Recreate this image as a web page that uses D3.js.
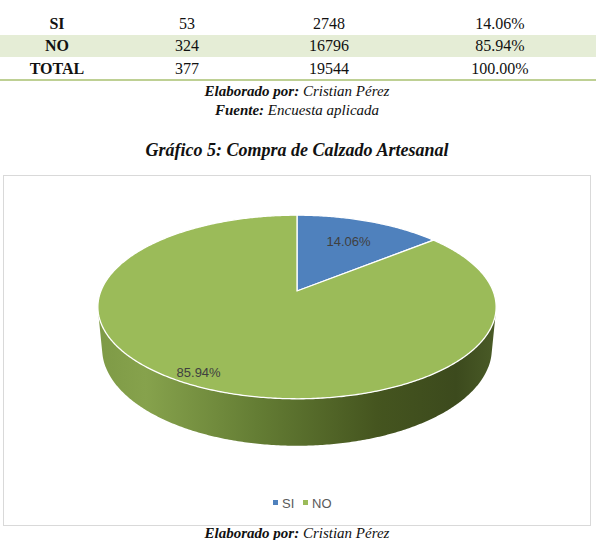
<!DOCTYPE html>
<html><head><meta charset="utf-8">
<script src="https://cdn.jsdelivr.net/npm/d3@7"></script>
<style>html,body{margin:0;padding:0;background:#fff;}svg{display:block;}</style>
</head><body>
<svg id="c" width="596" height="540"></svg>
<script>
// ---- data ----
const categories = ["SI", "NO"];
const frecuencia = [53, 324];
const poblacion = [2748, 16796];
const porcentaje = [14.06, 85.94];
const totalRow = ["TOTAL", "377", "19544", "100.00%"];
const colors = ["#4f81bd", "#9bbb59"];

const svg = d3.select("#c");
const serif = "'Liberation Serif','Times New Roman',serif";
const sans = "'Liberation Sans',Arial,sans-serif";

// ---- table ----
const colX = [57, 187, 329, 500];
const rows = categories.map((c, i) => [c, String(frecuencia[i]), String(poblacion[i]), porcentaje[i].toFixed(2) + "%"]);
rows.push(totalRow);
const rowY = [23, 45.5, 68];
svg.append("rect").attr("x", 0).attr("y", 35).attr("width", 596).attr("height", 22).attr("fill", "#e5edd6");
svg.append("line").attr("x1", 0).attr("x2", 596).attr("y1", 80).attr("y2", 80).attr("stroke", "#a8c070").attr("stroke-width", 1.5);
rows.forEach((r, ri) => {
  r.forEach((t, ci) => {
    svg.append("text").attr("x", colX[ci]).attr("y", rowY[ri] + 5.5)
      .attr("text-anchor", "middle").attr("font-family", serif).attr("font-size", 16)
      .attr("font-weight", ci === 0 ? "bold" : "normal").attr("fill", "#111").text(t);
  });
});

function credit(y, bold, ital) {
  const t = svg.append("text").attr("x", 297).attr("y", y).attr("text-anchor", "middle")
    .attr("font-family", serif).attr("font-size", 15).attr("font-style", "italic").attr("fill", "#111");
  t.append("tspan").attr("font-weight", "bold").text(bold + " ");
  t.append("tspan").text(ital);
}
credit(96, "Elaborado por:", "Cristian Pérez");
credit(115, "Fuente:", "Encuesta aplicada");

svg.append("text").attr("x", 297).attr("y", 156).attr("text-anchor", "middle")
  .attr("font-family", serif).attr("font-size", 18).attr("font-weight", "bold").attr("font-style", "italic")
  .attr("fill", "#111").text("Gráfico 5: Compra de Calzado Artesanal");

// chart frame
svg.append("rect").attr("x", 3.5).attr("y", 175.5).attr("width", 587).attr("height", 350)
  .attr("fill", "#fff").attr("stroke", "#d9d9d9").attr("stroke-width", 1);

// ---- 3D pie (perspective projection) ----
const elev = 27 * Math.PI / 180, sE = Math.sin(elev), cE = Math.cos(elev);
const Dist = 5.12, F = 1004, cx = 297, cy = 291, H = 0.241;
function proj(x, y, z) {
  const depth = Dist + y * cE - z * sE;
  return [cx + F * x / depth, cy - F * (y * sE + z * cE) / depth];
}
function rim(t, z, r = 1) { return proj(r * Math.sin(t), r * Math.cos(t), z); }
function arcPts(a0, a1, z) {
  const n = Math.max(2, Math.ceil(Math.abs(a1 - a0) / 0.01));
  return d3.range(n + 1).map(i => rim(a0 + (a1 - a0) * i / n, z));
}
const pie = d3.pie().sort(null).value(d => d)(porcentaje);

const defs = svg.append("defs");
const g = defs.append("linearGradient").attr("id", "side").attr("gradientUnits", "userSpaceOnUse")
  .attr("x1", 98).attr("x2", 496).attr("y1", 0).attr("y2", 0);
[[0, "#7e9a46"], [0.12, "#86a24c"], [0.4, "#647d34"], [0.7, "#45551f"], [0.9, "#3c4a1d"], [1, "#4a5b27"]]
  .forEach(([o, c]) => g.append("stop").attr("offset", o).attr("stop-color", c));
const gB = defs.append("linearGradient").attr("id", "sideB").attr("gradientUnits", "userSpaceOnUse")
  .attr("x1", 98).attr("x2", 496).attr("y1", 0).attr("y2", 0);
[[0, "#4470a8"], [1, "#26426a"]].forEach(([o, c]) => gB.append("stop").attr("offset", o).attr("stop-color", c));

// visible front range of the cylinder wall
const vis = Math.acos(-1 / (Dist * cE));
const v0 = vis, v1 = 2 * Math.PI - vis;
const line = d3.line();
pie.forEach((s, i) => {
  const lo = Math.max(s.startAngle, v0), hi = Math.min(s.endAngle, v1);
  if (hi <= lo) return;
  const pts = arcPts(lo, hi, 0).concat(arcPts(hi, lo, -H));
  svg.append("path").attr("d", line(pts) + "Z").attr("fill", i === 0 ? "url(#sideB)" : "url(#side)");
});
pie.forEach((s, i) => {
  const pts = [proj(0, 0, 0)].concat(arcPts(s.startAngle, s.endAngle, 0));
  svg.append("path").attr("d", line(pts) + "Z").attr("fill", colors[i])
    .attr("stroke", "#fff").attr("stroke-width", 1.3).attr("stroke-linejoin", "round");
});

const labelR = [0.68, 0.9];
const labelShift = [0, 0.06];
pie.forEach((s, i) => {
  const m = (s.startAngle + s.endAngle) / 2 + labelShift[i];
  const p = rim(m, 0, labelR[i]);
  svg.append("text").attr("x", p[0]).attr("y", p[1] + 4.5).attr("text-anchor", "middle")
    .attr("font-family", sans).attr("font-size", 13).attr("fill", "#404040")
    .text(porcentaje[i].toFixed(2) + "%");
});

// legend
const legX = [273, 303];
categories.forEach((c, i) => {
  svg.append("rect").attr("x", legX[i]).attr("y", 500).attr("width", 5).attr("height", 5).attr("fill", colors[i]);
  svg.append("text").attr("x", legX[i] + 9).attr("y", 507.5).attr("font-family", sans).attr("font-size", 13)
    .attr("fill", "#595959").text(c);
});

credit(538, "Elaborado por:", "Cristian Pérez");
</script>
</body></html>
